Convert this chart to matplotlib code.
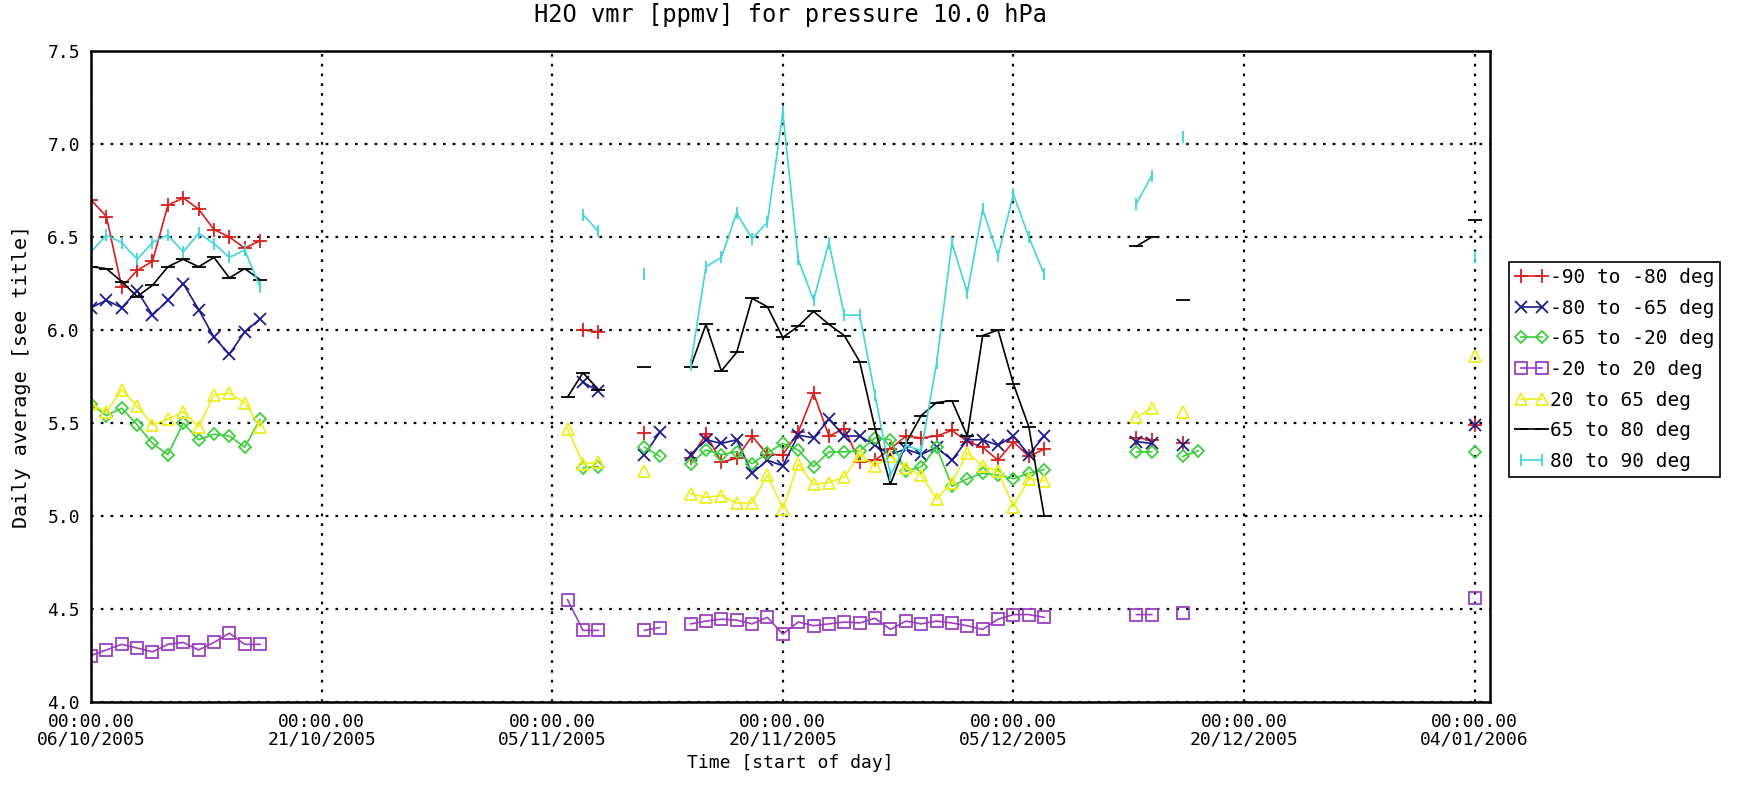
import numpy as np
import pandas as pd
import matplotlib
matplotlib.use("Agg")
import matplotlib.pyplot as plt

# --- data (daily averages, day offset from 06/10/2005) ---
start = pd.Timestamp("2005-10-06")
n_days = 91

blk1 = list(range(0, 12))
blk2 = list(range(39, 63))

red_days = blk1 + [32, 33, 36] + blk2 + [68, 69, 71, 90]
red_vals = [6.70, 6.61, 6.23, 6.32, 6.37, 6.67, 6.71, 6.65, 6.54, 6.50, 6.44, 6.48,
            6.00, 5.99, 5.445,
            5.31, 5.44, 5.29, 5.31, 5.43, 5.33, 5.33, 5.45, 5.66, 5.43, 5.47, 5.29,
            5.30, 5.36, 5.43, 5.42, 5.43, 5.46, 5.40, 5.37, 5.30, 5.40, 5.32, 5.36,
            5.42, 5.41, 5.39, 5.49]

blue_days = blk1 + [32, 33, 36, 37] + blk2 + [68, 69, 71, 90]
blue_vals = [6.12, 6.16, 6.12, 6.21, 6.08, 6.16, 6.25, 6.11, 5.96, 5.87, 5.99, 6.06,
             5.72, 5.67, 5.33, 5.45,
             5.33, 5.41, 5.39, 5.41, 5.23, 5.30, 5.27, 5.435, 5.42, 5.52, 5.43, 5.43,
             5.38, 5.33, 5.36, 5.33, 5.37, 5.30, 5.41, 5.41, 5.38, 5.43, 5.33, 5.43,
             5.40, 5.39, 5.38, 5.49]

green_days = blk1 + [32, 33, 36, 37] + blk2 + [68, 69, 71, 72, 90]
green_vals = [5.60, 5.54, 5.58, 5.49, 5.39, 5.33, 5.50, 5.41, 5.44, 5.43, 5.37, 5.52,
              5.26, 5.265, 5.37, 5.32,
              5.28, 5.355, 5.33, 5.345, 5.28, 5.34, 5.39, 5.355, 5.265, 5.345, 5.345, 5.35,
              5.42, 5.41, 5.24, 5.265, 5.37, 5.16, 5.20, 5.23, 5.22, 5.20, 5.23, 5.25,
              5.345, 5.345, 5.32, 5.35, 5.345]

purple_days = blk1 + [31, 32, 33, 36, 37] + blk2 + [68, 69, 71, 90]
purple_vals = [4.25, 4.28, 4.31, 4.29, 4.27, 4.31, 4.32, 4.28, 4.32, 4.37, 4.31, 4.31,
               4.55, 4.385, 4.385, 4.385, 4.40,
               4.42, 4.435, 4.445, 4.44, 4.42, 4.455, 4.365, 4.43, 4.41, 4.42, 4.43, 4.425,
               4.45, 4.39, 4.435, 4.42, 4.435, 4.425, 4.41, 4.39, 4.445, 4.47, 4.47, 4.455,
               4.47, 4.47, 4.48, 4.56]

yellow_days = blk1 + [31, 32, 33, 36] + blk2 + [68, 69, 71, 90]
yellow_vals = [5.60, 5.56, 5.68, 5.59, 5.49, 5.52, 5.56, 5.48, 5.65, 5.66, 5.61, 5.48,
               5.47, 5.28, 5.29, 5.24,
               5.12, 5.10, 5.11, 5.07, 5.07, 5.22, 5.04, 5.28, 5.17, 5.18, 5.21, 5.33,
               5.27, 5.32, 5.26, 5.22, 5.09, 5.18, 5.34, 5.27, 5.24, 5.05, 5.20, 5.19,
               5.53, 5.58, 5.56, 5.86]

black_days = blk1 + [31, 32, 33, 36] + blk2 + [68, 69, 71, 90]
black_vals = [6.34, 6.33, 6.26, 6.18, 6.24, 6.34, 6.38, 6.34, 6.39, 6.28, 6.33, 6.27,
              5.64, 5.77, 5.68, 5.80,
              5.80, 6.03, 5.78, 5.88, 6.17, 6.125, 5.96, 6.02, 6.10, 6.03, 5.97, 5.83,
              5.47, 5.17, 5.39, 5.54, 5.61, 5.62, 5.43, 5.97, 6.00, 5.71, 5.48, 5.00,
              6.45, 6.50, 6.16, 6.59]

cyan_days = blk1 + [32, 33, 36] + blk2 + [68, 69, 71, 90]
cyan_vals = [6.42, 6.51, 6.47, 6.38, 6.47, 6.51, 6.42, 6.52, 6.465, 6.39, 6.43, 6.23,
             6.62, 6.53, 6.30,
             5.81, 6.34, 6.39, 6.63, 6.49, 6.58, 7.17, 6.38, 6.16, 6.47, 6.08, 6.08,
             5.65, 5.22, 5.38, 5.35, 5.82, 6.47, 6.20, 6.65, 6.40, 6.73, 6.50, 6.30,
             6.68, 6.83, 7.04, 6.39]

labels = ["-90 to -80 deg", "-80 to -65 deg", "-65 to -20 deg", "-20 to 20 deg",
          "20 to 65 deg", "65 to 80 deg", "80 to 90 deg"]
tick_days = [0, 15, 30, 45, 60, 75, 90]


def on_daily_grid(days, vals):
    # missing days -> NaN so the line breaks across data gaps
    s = pd.Series(vals, index=days, dtype=float)
    return s.reindex(range(n_days)).to_numpy()


dates = start + pd.to_timedelta(np.arange(n_days), unit="D")

series = [
    (red_days, red_vals, "#d81e1e", "+", 10, "full"),
    (blue_days, blue_vals, "#1c1c8c", "x", 9, "full"),
    (green_days, green_vals, "#3ccf3c", "D", 6, "none"),
    (purple_days, purple_vals, "#9a3fc2", "s", 8.5, "none"),
    (yellow_days, yellow_vals, "#eeee20", "^", 8, "none"),
    (black_days, black_vals, "#000000", "_", 10, "full"),
    (cyan_days, cyan_vals, "#3fd6dc", "|", 9, "full"),
]

plt.rcParams["font.family"] = ["DejaVu Sans Mono"]

fig = plt.figure(figsize=(17.43, 7.87), dpi=100)
ax = fig.add_axes([91 / 1743, 1 - 702 / 787, (1490 - 91) / 1743, (702 - 51) / 787])

for (d, v, col, mk, ms, fs), lab in zip(series, labels):
    ax.plot(dates, on_daily_grid(d, v), color=col, marker=mk, markersize=ms,
            fillstyle=fs, markeredgewidth=1.3, linewidth=1.2, label=lab)

ax.set_ylim(4.0, 7.5)
ax.set_xlim(start, start + pd.Timedelta(days=91))
yt = np.arange(4.0, 7.51, 0.5)
ax.set_yticks(yt)
ax.set_yticklabels([f"{t:.1f}" for t in yt])
tick_dates = [start + pd.Timedelta(days=d) for d in tick_days]
ax.set_xticks(tick_dates)
ax.set_xticklabels(["00:00.00\n" + t.strftime("%d/%m/%Y") for t in tick_dates],
                   linespacing=0.95)
ax.tick_params(axis="both", length=0, labelsize=13, pad=8)
ax.grid(True, color="black", linestyle=(0, (1.2, 3.2)), linewidth=1.6)

for sp in ax.spines.values():
    sp.set_linewidth(1.8)

ax.set_title("H2O vmr [ppmv] for pressure 10.0 hPa", fontsize=17, pad=21)
ax.set_xlabel("Time [start of day]", fontsize=13, labelpad=4)
ax.set_ylabel("Daily average [see title]", fontsize=14.5, labelpad=12)

handles, labs = ax.get_legend_handles_labels()
leg = fig.legend(handles, labs, loc="upper left",
                 bbox_to_anchor=(1509 / 1743, 1 - 262 / 787), borderaxespad=0,
                 fontsize=14, handlelength=1.7, handletextpad=0.1, labelspacing=0.6,
                 borderpad=0.3, numpoints=2, fancybox=False, framealpha=1)
leg.get_frame().set_edgecolor("black")
leg.get_frame().set_linewidth(1.2)

fig.savefig("out.png", dpi=100)
